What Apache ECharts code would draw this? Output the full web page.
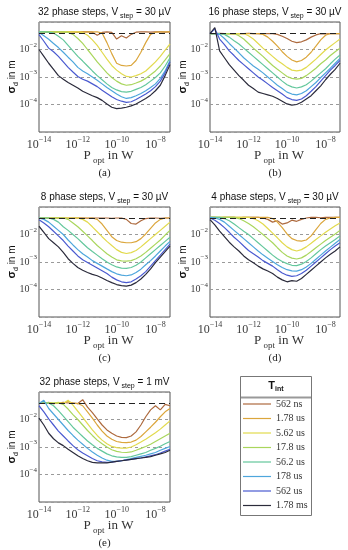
<!DOCTYPE html>
<html><head><meta charset="utf-8">
<script src="https://cdn.jsdelivr.net/npm/echarts@6/dist/echarts.min.js"></script>
<style>html,body{margin:0;padding:0;background:#fff}#c{width:348px;height:550px}</style>
</head><body><div id="c"></div>
<script>
// Optical power P_opt in W (x values, quarter-decade grid)
const power = [1e-14,1.78e-14,3.16e-14,5.62e-14,1e-13,1.78e-13,3.16e-13,5.62e-13,
  1e-12,1.78e-12,3.16e-12,5.62e-12,1e-11,1.78e-11,3.16e-11,5.62e-11,
  1e-10,1.78e-10,3.16e-10,5.62e-10,1e-9,1.78e-9,3.16e-9,5.62e-9,
  1e-8,1.78e-8,3.16e-8,5.62e-8];
const tIntNames = ['562 ns','1.78 us','5.62 us','17.8 us','56.2 us','178 us','562 us','1.78 ms'];
const colors = ['#ad6a3e','#dba63c','#e2da4e','#a9d65c','#63c79c','#4ea6dc','#4a5ad0','#2b2b3b'];
const stepCounts = [32,16,8,4,32];
const stepVoltages = ['30 µV','30 µV','30 µV','30 µV','1 mV'];
const panelTags = ['(a)','(b)','(c)','(d)','(e)'];
const xGridValues = [1e-12,1e-10,1e-8];
const saturationLog = [-1.37,-1.42,-1.40,-1.38,-1.40];

// sigma_d values, stored as log10(sigma_d / m)
// (a) 32 steps, 30 uV
const a_562ns = [-1.36,-1.36,-1.37,-1.36,-1.36,-1.37,-1.36,-1.36,-1.38,-1.36,-1.36,-1.37,-1.48,-1.38,-1.36,-1.38,-1.62,-1.5,-1.58,-1.45,-1.37,-1.36,-1.36,-1.37,-1.36,-1.36,-1.37,-1.36];
const a_1_78us = [-1.36,-1.36,-1.36,-1.36,-1.36,-1.36,-1.36,-1.36,-1.36,-1.36,-1.36,-1.36,-1.36,-1.4,-1.75,-2.15,-2.5,-2.58,-2.6,-2.58,-2.4,-2.1,-1.75,-1.45,-1.37,-1.36,-1.36,-1.36];
const a_5_62us = [-1.36,-1.36,-1.36,-1.36,-1.36,-1.36,-1.36,-1.36,-1.36,-1.38,-1.48,-1.65,-1.85,-2.1,-2.35,-2.58,-2.75,-2.88,-2.98,-3.0,-2.95,-2.88,-2.78,-2.62,-2.45,-2.25,-2.02,-1.8];
const a_17_8us = [-1.36,-1.36,-1.36,-1.36,-1.36,-1.36,-1.38,-1.45,-1.6,-1.78,-2.0,-2.22,-2.45,-2.65,-2.85,-3.02,-3.15,-3.25,-3.3,-3.28,-3.22,-3.15,-3.05,-2.92,-2.78,-2.6,-2.38,-2.15];
const a_56_2us = [-1.36,-1.36,-1.37,-1.4,-1.52,-1.65,-1.85,-2.05,-2.25,-2.42,-2.6,-2.78,-2.95,-3.1,-3.25,-3.38,-3.47,-3.53,-3.55,-3.52,-3.45,-3.38,-3.28,-3.15,-3.02,-2.85,-2.6,-2.3];
const a_178us = [-1.38,-1.5,-1.63,-1.78,-1.93,-2.1,-2.28,-2.45,-2.65,-2.78,-2.88,-3.0,-3.12,-3.25,-3.38,-3.5,-3.62,-3.72,-3.78,-3.75,-3.68,-3.6,-3.5,-3.38,-3.25,-3.05,-2.78,-2.4];
const a_562us = [-1.46,-1.7,-1.95,-2.08,-2.25,-2.45,-2.65,-2.82,-2.98,-3.08,-3.15,-3.25,-3.35,-3.48,-3.6,-3.72,-3.82,-3.88,-3.92,-3.9,-3.82,-3.72,-3.62,-3.5,-3.35,-3.15,-2.85,-2.45];
const a_1_78ms = [-2.0,-2.25,-2.5,-2.72,-2.95,-3.08,-3.2,-3.3,-3.4,-3.52,-3.6,-3.68,-3.75,-3.85,-3.98,-4.1,-4.15,-4.13,-4.1,-4.05,-3.98,-3.88,-3.78,-3.66,-3.5,-3.3,-2.95,-2.55];
// (b) 16 steps, 30 uV
const b_562ns = [-1.42,-1.42,-1.41,-1.42,-1.42,-1.43,-1.42,-1.42,-1.41,-1.42,-1.42,-1.42,-1.42,-1.42,-1.45,-1.52,-1.6,-1.7,-1.75,-1.72,-1.65,-1.55,-1.47,-1.42,-1.43,-1.42,-1.42,-1.42];
const b_1_78us = [-1.42,-1.42,-1.42,-1.42,-1.42,-1.42,-1.42,-1.42,-1.42,-1.42,-1.42,-1.45,-1.55,-1.7,-1.88,-2.08,-2.25,-2.38,-2.45,-2.4,-2.28,-2.1,-1.88,-1.65,-1.48,-1.42,-1.42,-1.42];
const b_5_62us = [-1.42,-1.42,-1.42,-1.42,-1.42,-1.42,-1.42,-1.42,-1.5,-1.62,-1.78,-1.95,-2.1,-2.25,-2.4,-2.52,-2.65,-2.75,-2.78,-2.75,-2.65,-2.5,-2.35,-2.18,-2.02,-1.88,-1.75,-1.62];
const b_17_8us = [-1.42,-1.42,-1.42,-1.42,-1.42,-1.42,-1.5,-1.62,-1.78,-1.95,-2.1,-2.25,-2.42,-2.58,-2.72,-2.85,-2.98,-3.05,-3.08,-3.05,-2.95,-2.82,-2.68,-2.52,-2.38,-2.22,-2.08,-1.95];
const b_56_2us = [-1.42,-1.42,-1.42,-1.45,-1.55,-1.68,-1.8,-1.95,-2.1,-2.25,-2.4,-2.55,-2.7,-2.85,-3.0,-3.15,-3.28,-3.36,-3.4,-3.36,-3.28,-3.15,-3.0,-2.85,-2.7,-2.52,-2.35,-2.2];
const b_178us = [-1.42,-1.42,-1.45,-1.6,-1.78,-1.95,-2.12,-2.3,-2.45,-2.6,-2.72,-2.85,-3.0,-3.15,-3.3,-3.42,-3.55,-3.62,-3.65,-3.6,-3.5,-3.35,-3.2,-3.02,-2.85,-2.68,-2.5,-2.32];
const b_562us = [-1.42,-1.25,-1.62,-1.82,-2.05,-2.22,-2.4,-2.55,-2.7,-2.85,-3.0,-3.12,-3.25,-3.38,-3.5,-3.62,-3.75,-3.82,-3.85,-3.8,-3.68,-3.52,-3.35,-3.15,-2.95,-2.75,-2.58,-2.4];
const b_1_78ms = [-1.42,-1.2,-2.05,-2.3,-2.55,-2.75,-2.95,-3.12,-3.3,-3.42,-3.55,-3.6,-3.65,-3.7,-3.78,-3.88,-3.98,-4.02,-4.0,-3.92,-3.8,-3.68,-3.5,-3.32,-3.1,-2.9,-2.72,-2.5];
// (c) 8 steps, 30 uV
const c_562ns = [-1.4,-1.4,-1.41,-1.4,-1.4,-1.4,-1.41,-1.4,-1.4,-1.4,-1.41,-1.4,-1.4,-1.4,-1.4,-1.41,-1.4,-1.4,-1.45,-1.6,-1.62,-1.5,-1.42,-1.4,-1.4,-1.41,-1.4,-1.4];
const c_1_78us = [-1.4,-1.4,-1.4,-1.4,-1.4,-1.4,-1.4,-1.4,-1.4,-1.4,-1.4,-1.4,-1.45,-1.62,-1.85,-2.08,-2.22,-2.28,-2.3,-2.3,-2.26,-2.15,-1.98,-1.78,-1.58,-1.45,-1.4,-1.4];
const c_5_62us = [-1.4,-1.4,-1.4,-1.4,-1.4,-1.4,-1.4,-1.4,-1.4,-1.45,-1.55,-1.72,-1.9,-2.08,-2.25,-2.4,-2.55,-2.65,-2.69,-2.66,-2.58,-2.45,-2.3,-2.15,-2.0,-1.85,-1.7,-1.55];
const c_17_8us = [-1.4,-1.4,-1.4,-1.4,-1.4,-1.4,-1.45,-1.58,-1.72,-1.88,-2.05,-2.22,-2.4,-2.55,-2.7,-2.82,-2.92,-2.96,-2.97,-2.95,-2.88,-2.78,-2.65,-2.5,-2.35,-2.2,-2.02,-1.85];
const c_56_2us = [-1.4,-1.4,-1.4,-1.45,-1.55,-1.72,-1.85,-2.0,-2.15,-2.32,-2.48,-2.62,-2.75,-2.88,-3.0,-3.1,-3.18,-3.22,-3.23,-3.2,-3.12,-3.0,-2.85,-2.7,-2.55,-2.4,-2.25,-2.1];
const c_178us = [-1.4,-1.45,-1.55,-1.7,-1.85,-2.0,-2.2,-2.38,-2.55,-2.7,-2.82,-2.95,-3.05,-3.15,-3.25,-3.35,-3.43,-3.48,-3.5,-3.47,-3.38,-3.26,-3.1,-2.95,-2.78,-2.6,-2.42,-2.25];
const c_562us = [-1.46,-1.58,-1.72,-1.88,-2.05,-2.22,-2.42,-2.6,-2.78,-2.92,-3.02,-3.12,-3.22,-3.32,-3.42,-3.55,-3.65,-3.72,-3.75,-3.72,-3.62,-3.5,-3.35,-3.15,-2.95,-2.75,-2.55,-2.35];
const c_1_78ms = [-1.7,-1.92,-2.15,-2.3,-2.45,-2.65,-2.88,-3.05,-3.2,-3.3,-3.38,-3.45,-3.5,-3.58,-3.67,-3.75,-3.82,-3.86,-3.88,-3.84,-3.75,-3.62,-3.45,-3.25,-3.02,-2.82,-2.62,-2.42];
// (d) 4 steps, 30 uV
const d_562ns = [-1.38,-1.38,-1.39,-1.38,-1.38,-1.38,-1.39,-1.38,-1.38,-1.38,-1.38,-1.4,-1.45,-1.55,-1.5,-1.62,-1.58,-1.48,-1.52,-1.45,-1.4,-1.38,-1.38,-1.39,-1.38,-1.38,-1.38,-1.38];
const d_1_78us = [-1.38,-1.38,-1.38,-1.38,-1.38,-1.38,-1.38,-1.38,-1.38,-1.38,-1.38,-1.38,-1.38,-1.42,-1.55,-1.75,-1.98,-2.15,-2.22,-2.24,-2.2,-2.05,-1.82,-1.6,-1.45,-1.4,-1.38,-1.38];
const d_5_62us = [-1.38,-1.38,-1.38,-1.38,-1.38,-1.38,-1.38,-1.38,-1.38,-1.42,-1.5,-1.62,-1.78,-1.95,-2.12,-2.3,-2.45,-2.55,-2.6,-2.55,-2.45,-2.32,-2.18,-2.05,-1.92,-1.8,-1.68,-1.58];
const d_17_8us = [-1.38,-1.38,-1.38,-1.38,-1.38,-1.38,-1.42,-1.5,-1.6,-1.72,-1.86,-2.0,-2.15,-2.3,-2.48,-2.65,-2.78,-2.86,-2.89,-2.85,-2.75,-2.62,-2.48,-2.35,-2.22,-2.1,-1.98,-1.85];
const d_56_2us = [-1.38,-1.38,-1.38,-1.42,-1.5,-1.62,-1.75,-1.88,-2.0,-2.15,-2.3,-2.45,-2.6,-2.75,-2.88,-2.98,-3.06,-3.12,-3.13,-3.08,-2.98,-2.85,-2.7,-2.55,-2.42,-2.3,-2.18,-2.05];
const d_178us = [-1.38,-1.4,-1.45,-1.55,-1.7,-1.85,-2.0,-2.15,-2.3,-2.45,-2.6,-2.74,-2.86,-2.98,-3.1,-3.2,-3.28,-3.32,-3.33,-3.28,-3.18,-3.05,-2.9,-2.75,-2.6,-2.46,-2.32,-2.18];
const d_562us = [-1.4,-1.48,-1.6,-1.75,-1.92,-2.1,-2.25,-2.42,-2.58,-2.7,-2.82,-2.95,-3.05,-3.15,-3.28,-3.4,-3.48,-3.52,-3.5,-3.42,-3.3,-3.15,-3.0,-2.85,-2.7,-2.55,-2.42,-2.3];
const d_1_78ms = [-1.46,-1.65,-1.88,-2.08,-2.28,-2.45,-2.6,-2.78,-2.92,-3.03,-3.15,-3.25,-3.33,-3.42,-3.55,-3.65,-3.72,-3.68,-3.7,-3.6,-3.45,-3.3,-3.15,-3.0,-2.85,-2.72,-2.6,-2.45];
// (e) 32 steps, 1 mV
const e_562ns = [-1.4,-1.41,-1.4,-1.42,-1.4,-1.38,-1.4,-1.4,-1.42,-1.28,-1.55,-1.75,-1.98,-2.2,-2.38,-2.5,-2.6,-2.65,-2.66,-2.6,-2.45,-2.2,-1.9,-1.65,-1.5,-1.65,-1.45,-1.5];
const e_1_78us = [-1.4,-1.4,-1.38,-1.42,-1.4,-1.4,-1.35,-1.4,-1.42,-1.5,-1.72,-1.95,-2.2,-2.42,-2.6,-2.72,-2.8,-2.83,-2.84,-2.82,-2.75,-2.62,-2.45,-2.28,-2.1,-1.9,-1.72,-1.6];
const e_5_62us = [-1.4,-1.4,-1.4,-1.4,-1.38,-1.42,-1.3,-1.48,-1.7,-1.92,-2.15,-2.38,-2.58,-2.75,-2.88,-2.98,-3.02,-3.04,-3.04,-3.0,-2.92,-2.82,-2.72,-2.6,-2.48,-2.35,-2.2,-2.05];
const e_17_8us = [-1.4,-1.4,-1.4,-1.4,-1.4,-1.45,-1.62,-1.82,-2.0,-2.2,-2.4,-2.58,-2.75,-2.88,-3.0,-3.1,-3.16,-3.19,-3.2,-3.18,-3.12,-3.05,-2.98,-2.9,-2.8,-2.7,-2.6,-2.5];
const e_56_2us = [-1.4,-1.4,-1.4,-1.5,-1.68,-1.88,-2.08,-2.28,-2.45,-2.62,-2.78,-2.92,-3.05,-3.15,-3.25,-3.32,-3.36,-3.38,-3.38,-3.35,-3.3,-3.25,-3.2,-3.12,-3.05,-2.97,-2.88,-2.8];
const e_178us = [-1.42,-1.3,-1.6,-1.8,-2.0,-2.2,-2.4,-2.58,-2.75,-2.9,-3.05,-3.18,-3.3,-3.4,-3.48,-3.52,-3.52,-3.5,-3.46,-3.42,-3.38,-3.34,-3.3,-3.25,-3.2,-3.12,-3.05,-2.98];
const e_562us = [-1.5,-1.72,-1.98,-2.2,-2.42,-2.6,-2.78,-2.95,-3.1,-3.22,-3.32,-3.42,-3.5,-3.54,-3.56,-3.55,-3.52,-3.5,-3.47,-3.45,-3.42,-3.4,-3.36,-3.32,-3.28,-3.22,-3.15,-3.08];
const e_1_78ms = [-1.95,-2.2,-2.5,-2.7,-2.85,-2.95,-3.08,-3.2,-3.32,-3.42,-3.5,-3.56,-3.58,-3.58,-3.58,-3.55,-3.52,-3.5,-3.48,-3.45,-3.42,-3.4,-3.38,-3.35,-3.3,-3.25,-3.2,-3.12];

const panelSeries = [
  [a_562ns,a_1_78us,a_5_62us,a_17_8us,a_56_2us,a_178us,a_562us,a_1_78ms],
  [b_562ns,b_1_78us,b_5_62us,b_17_8us,b_56_2us,b_178us,b_562us,b_1_78ms],
  [c_562ns,c_1_78us,c_5_62us,c_17_8us,c_56_2us,c_178us,c_562us,c_1_78ms],
  [d_562ns,d_1_78us,d_5_62us,d_17_8us,d_56_2us,d_178us,d_562us,d_1_78ms],
  [e_562ns,e_1_78us,e_5_62us,e_17_8us,e_56_2us,e_178us,e_562us,e_1_78ms]
];

// ---------- layout ----------
const SERIF = "'Liberation Serif','DejaVu Serif',serif";
const SANS = "'Liberation Sans','DejaVu Sans',Arial,sans-serif";
const layout = [
  {left:39, top:22, width:131, height:110},
  {left:210, top:22, width:130, height:110},
  {left:39, top:207, width:131, height:110},
  {left:210, top:207, width:130, height:110},
  {left:39, top:392, width:131, height:110}
];

function isInt(e){ return Math.abs(e - Math.round(e)) < 1e-6; }
function xTickOk(r){ return r % 2 === 0 && r >= -14 && r <= -8; }
const tickRich = (bs, ss, lh) => ({
  b:{fontFamily:SERIF, fontSize:bs, color:'#3a3a3a', lineHeight:lh},
  s:{fontFamily:SERIF, fontSize:ss, color:'#3a3a3a', verticalAlign:'top', lineHeight:ss+1}
});

const grids = [], xAxes = [], yAxes = [], series = [], graphics = [];
layout.forEach((L, p) => {
  grids.push({left:L.left, top:L.top, width:L.width, height:L.height, show:true,
    borderColor:'#555', borderWidth:1});
  xAxes.push({type:'log', logBase:10, gridIndex:p, min:power[0], max:power[power.length-1],
    axisLine:{show:false}, axisTick:{show:false}, splitLine:{show:false},
    axisLabel:{margin:4, showMinLabel:true, showMaxLabel:true, hideOverlap:false,
      formatter:v => { const e = Math.log10(v); if (!isInt(e)) return ''; const r = Math.round(e);
        if (xTickOk(r)) return '{b|10}{s|−' + (-r) + '}'; return ''; },
      rich: tickRich(12, 8, 18)}});
  yAxes.push({type:'log', logBase:10, gridIndex:p, min:1e-5, max:1e-1,
    axisLine:{show:false}, axisTick:{show:false},
    splitLine:{show:true, lineStyle:{color:'#9a9a9a', type:[3,3], width:1}},
    axisLabel:{margin:2, showMinLabel:true, showMaxLabel:true,
      formatter:v => { const e = Math.log10(v); if (!isInt(e)) return ''; const r = Math.round(e);
        if (r <= -2 && r >= -4) return '{b|10}{s|−' + (-r) + '}'; return ''; },
      rich: tickRich(10, 7, 16)}});
  panelSeries[p].forEach((arr, k) => {
    const s = {type:'line', name:tIntNames[k], xAxisIndex:p, yAxisIndex:p, symbol:'none',
      z:3, lineStyle:{color:colors[k], width:1.2}, itemStyle:{color:colors[k]},
      data: power.map((x, i) => [x, Math.pow(10, arr[i])])};
    if (k === 0) s.markLine = {silent:true, symbol:'none', label:{show:false},
      lineStyle:{color:'#a0a0a0', type:[1,2], width:1}, data: xGridValues.map(v => ({xAxis:v}))};
    if (k === 7) s.markLine = {silent:true, symbol:'none', label:{show:false},
      lineStyle:{color:'#222', type:[6,4], width:1}, data:[{yAxis: Math.pow(10, saturationLog[p])}]};
    series.push(s);
  });
  const cx = L.left + L.width / 2;
  graphics.push({type:'text', x:cx, y:L.top - 10, silent:true, style:{
    text:'{m|' + stepCounts[p] + ' phase steps, V}{s| step}{m| = ' + stepVoltages[p] + '}',
    align:'center', verticalAlign:'middle',
    rich:{m:{fontFamily:SANS, fontSize:10, fill:'#111', lineHeight:16},
          s:{fontFamily:SANS, fontSize:7, fill:'#111', verticalAlign:'bottom', lineHeight:6}}}});
  graphics.push({type:'text', x:cx + 4, y:L.top + L.height + 24, silent:true, style:{
    text:'{m|P}{s| opt}{m| in W}', align:'center', verticalAlign:'middle',
    rich:{m:{fontFamily:SERIF, fontSize:13, fill:'#333', lineHeight:18},
          s:{fontFamily:SERIF, fontSize:9, fill:'#333', verticalAlign:'bottom', lineHeight:8}}}});
  graphics.push({type:'text', x:cx, y:L.top + L.height + 41, silent:true, style:{
    text:panelTags[p], align:'center', verticalAlign:'middle',
    fontFamily:SERIF, fontSize:11, fill:'#222'}});
  graphics.push({type:'text', x:L.left - 27, y:L.top + L.height / 2, rotation:Math.PI / 2, silent:true, style:{
    text:'{g|σ}{s|d}{m| in m}', align:'center', verticalAlign:'middle',
    rich:{g:{fontFamily:SANS, fontSize:11, fontWeight:'bold', fill:'#111', lineHeight:16},
          s:{fontFamily:SANS, fontSize:7, fill:'#111', verticalAlign:'bottom', lineHeight:6},
          m:{fontFamily:SANS, fontSize:10, fill:'#111', lineHeight:16}}}});
});

// legend box + header
graphics.push({type:'rect', silent:true, shape:{x:240.5, y:376.5, width:71, height:139},
  style:{fill:'#fff', stroke:'#777', lineWidth:1}, z:-1});
graphics.push({type:'line', silent:true, shape:{x1:241, y1:397.5, x2:311, y2:397.5},
  style:{stroke:'#999', lineWidth:2}});
graphics.push({type:'text', x:276, y:386, silent:true, style:{
  text:'{t|T}{s|int}', align:'center', verticalAlign:'middle',
  rich:{t:{fontFamily:SANS, fontSize:11, fontWeight:'bold', fill:'#111', lineHeight:14},
        s:{fontFamily:SANS, fontSize:7, fontWeight:'bold', fill:'#111', verticalAlign:'bottom', lineHeight:6}}}});

const chart = echarts.init(document.getElementById('c'), null, {renderer:'canvas'});
chart.setOption({
  animation:false,
  backgroundColor:'#fff',
  grid: grids, xAxis: xAxes, yAxis: yAxes, series: series,
  legend:{orient:'vertical', left:243, top:399, itemWidth:28, itemHeight:1.2, itemGap:4.5, padding:0,
    icon:'rect', selectedMode:false, data:tIntNames,
    textStyle:{fontFamily:SERIF, fontSize:10, color:'#333', lineHeight:10}},
  graphic: graphics
});
</script></body></html>
